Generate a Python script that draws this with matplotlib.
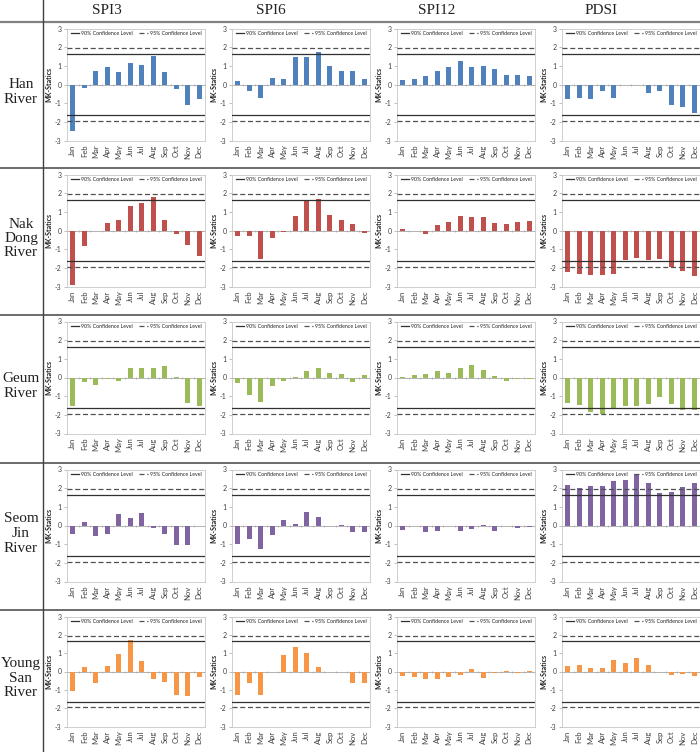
import numpy as np
import matplotlib
matplotlib.use("Agg")
import matplotlib.pyplot as plt
from matplotlib.lines import Line2D

months = ["Jan", "Feb", "Mar", "Apr", "May", "Jun", "Jul", "Aug", "Sep", "Oct", "Nov", "Dec"]
indices = ["SPI3", "SPI6", "SPI12", "PDSI"]
rivers = ["Han\nRiver", "Nak\nDong\nRiver", "Geum\nRiver", "Seom\nJin\nRiver", "Young\nSan\nRiver"]
colors = ["#4F81BD", "#C0504D", "#9BBB59", "#8064A2", "#F79646"]
conf90 = 1.65
conf95 = 1.96

han_spi3 = [-2.5, -0.2, 0.7, 0.95, 0.65, 1.15, 1.05, 1.55, 0.65, -0.25, -1.1, -0.75]
han_spi6 = [0.2, -0.35, -0.7, 0.35, 0.3, 1.5, 1.45, 1.75, 1.0, 0.75, 0.75, 0.3]
han_spi12 = [0.25, 0.3, 0.45, 0.7, 0.95, 1.25, 0.95, 1.0, 0.85, 0.5, 0.5, 0.45]
han_pdsi = [-0.8, -0.7, -0.75, -0.35, -0.7, -0.05, -0.05, -0.45, -0.35, -1.1, -1.2, -1.55]

nak_spi3 = [-2.9, -0.85, -0.05, 0.4, 0.55, 1.3, 1.5, 1.8, 0.55, -0.2, -0.75, -1.35]
nak_spi6 = [-0.3, -0.3, -1.55, -0.4, -0.1, 0.8, 1.6, 1.7, 0.85, 0.55, 0.35, -0.15]
nak_spi12 = [0.1, -0.05, -0.2, 0.3, 0.45, 0.8, 0.75, 0.7, 0.4, 0.35, 0.45, 0.5]
nak_pdsi = [-2.2, -2.35, -2.4, -2.4, -2.35, -1.6, -1.45, -1.6, -1.5, -1.95, -2.15, -2.45]

geum_spi3 = [-1.55, -0.25, -0.4, -0.1, -0.2, 0.5, 0.5, 0.5, 0.6, 0.05, -1.35, -1.5]
geum_spi6 = [-0.3, -0.95, -1.3, -0.45, -0.2, 0.05, 0.35, 0.5, 0.25, 0.2, -0.25, 0.15]
geum_spi12 = [0.05, 0.15, 0.2, 0.35, 0.25, 0.5, 0.65, 0.4, 0.1, -0.2, -0.1, -0.1]
geum_pdsi = [-1.35, -1.45, -1.85, -1.95, -1.7, -1.5, -1.55, -1.4, -1.05, -1.4, -1.75, -1.75]

seom_spi3 = [-0.45, 0.2, -0.55, -0.45, 0.6, 0.4, 0.65, -0.15, -0.45, -1.05, -1.05, -0.05]
seom_spi6 = [-1.0, -0.7, -1.25, -0.5, 0.3, 0.1, 0.75, 0.45, -0.05, 0.05, -0.35, -0.35]
seom_spi12 = [-0.25, -0.05, -0.35, -0.3, -0.05, -0.3, -0.2, 0.02, -0.3, -0.05, -0.15, -0.1]
seom_pdsi = [2.15, 2.0, 2.1, 2.1, 2.4, 2.45, 2.75, 2.3, 1.75, 1.8, 2.05, 2.3]

young_spi3 = [-1.05, 0.25, -0.65, 0.3, 0.95, 1.7, 0.6, -0.4, -0.55, -1.3, -1.35, -0.3]
young_spi6 = [-1.3, -0.6, -1.3, -0.05, 0.9, 1.35, 1.0, 0.25, -0.05, -0.05, -0.6, -0.6]
young_spi12 = [-0.25, -0.3, -0.4, -0.4, -0.3, -0.2, 0.15, -0.35, -0.1, 0.05, -0.1, 0.05]
young_pdsi = [0.3, 0.35, 0.2, 0.2, 0.65, 0.45, 0.75, 0.35, -0.05, -0.2, -0.15, -0.25]

data = [
    [han_spi3, han_spi6, han_spi12, han_pdsi],
    [nak_spi3, nak_spi6, nak_spi12, nak_pdsi],
    [geum_spi3, geum_spi6, geum_spi12, geum_pdsi],
    [seom_spi3, seom_spi6, seom_spi12, seom_pdsi],
    [young_spi3, young_spi6, young_spi12, young_pdsi],
]

W, H = 700, 752
fig = plt.figure(figsize=(W / 100, H / 100), dpi=100)
fig.patch.set_facecolor("white")

def fx(px):
    return px / W

def fy(py):
    return 1 - py / H

row_tops = [22, 168, 315, 463, 610]
row_bottoms = [168, 315, 463, 610, 752]
col_lefts = [67, 232, 397, 562]
header_centers = [107, 271, 437, 601]
plot_w = 138
serif = ["Liberation Serif", "DejaVu Serif"]
sans = ["Lato", "DejaVu Sans"]
tick_col = "#404040"

# table lines
fig.add_artist(Line2D([0, 1], [fy(22), fy(22)], color="#808080", lw=1.6, transform=fig.transFigure))
for yb in row_bottoms[:-1]:
    fig.add_artist(Line2D([0, 1], [fy(yb), fy(yb)], color="#606060", lw=1.3, transform=fig.transFigure))
fig.add_artist(Line2D([fx(43), fx(43)], [0, 1], color="#404040", lw=1.0, transform=fig.transFigure))

for j, name in enumerate(indices):
    fig.text(fx(header_centers[j]), fy(11), name, ha="center", va="center",
             fontsize=11, family=serif, color="#222222")

x = np.arange(len(months))
for i in range(5):
    fig.text(fx(21), fy((row_tops[i] + row_bottoms[i]) / 2 - 3), rivers[i], ha="center", va="center",
             fontsize=11, family=serif, color="#222222", linespacing=1.15)
    top = row_tops[i] + 6.5
    ph = 112 if i < 4 else 110
    for j in range(4):
        left = col_lefts[j]
        ax = fig.add_axes([fx(left), fy(top + ph), plot_w / W, ph / H])
        vals = data[i][j]
        ax.bar(x, vals, width=0.45, color=colors[i], zorder=2)
        ax.axhline(0, color="#A6A6A6", lw=0.6, zorder=1)
        ax.plot(np.arange(13) - 0.5, np.zeros(13), ls="none", marker="|", ms=2,
                mew=0.5, color="#A6A6A6", zorder=1)
        l1 = ax.axhline(conf90, color="#303030", lw=0.9, zorder=3, label="90% Confidence Level")
        ax.axhline(-conf90, color="#303030", lw=0.9, zorder=3)
        l2 = ax.axhline(conf95, color="#505050", lw=0.9, ls=(0, (4, 2.2)), zorder=3,
                        label="95% Confidence Level")
        ax.axhline(-conf95, color="#505050", lw=0.9, ls=(0, (4, 2.2)), zorder=3)
        ax.set_xlim(-0.5, 11.5)
        ax.set_ylim(-3, 3)
        ax.set_yticks([-3, -2, -1, 0, 1, 2, 3])
        ax.set_yticklabels(["-3", "-2", "-1", "0", "1", "2", "3"], fontsize=5,
                           family=sans, color=tick_col)
        ax.set_xticks(x)
        ax.set_xticklabels(months, rotation=90, fontsize=5.5, family=sans, color=tick_col)
        ax.tick_params(axis="x", length=0, pad=3)
        ax.tick_params(axis="y", length=2, width=0.5, color="#A6A6A6", pad=2)
        for s in ax.spines.values():
            s.set_color("#C8C8C8")
            s.set_linewidth(0.6)
        ax.set_ylabel("MK-Statics", fontsize=5, family=sans, fontweight="bold",
                      color="#222222", labelpad=2)
        leg = ax.legend(handles=[l1, l2], loc="upper center", bbox_to_anchor=(0.5, 1.015),
                        ncol=2, frameon=False, handlelength=1.6,
                        handletextpad=0.4, columnspacing=1.2, borderpad=0.2,
                        prop={"family": sans, "size": 3.8})
        for t in leg.get_texts():
            t.set_color("#222222")

fig.savefig("out.png", dpi=100, facecolor="white")
